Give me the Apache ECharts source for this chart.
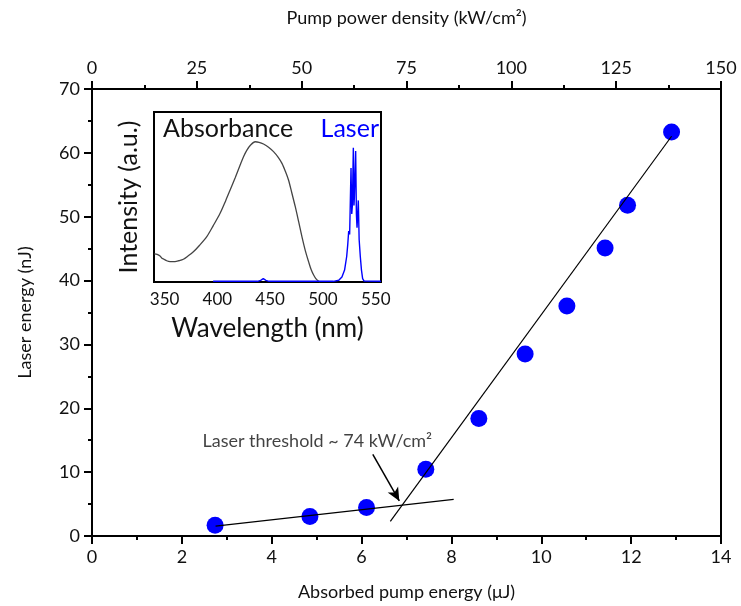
<!DOCTYPE html>
<html><head><meta charset="utf-8">
<script src="https://cdn.jsdelivr.net/npm/echarts@6/dist/echarts.min.js"></script>
<style>html,body{margin:0;padding:0;background:#fff}#c{width:741px;height:606px}</style>
</head><body><div id="c"></div>
<script>
// Main data
const pumpEnergy = [2.74, 4.85, 6.11, 7.43, 8.61, 9.64, 10.57, 11.42, 11.92, 12.90];
const laserEnergy = [1.67, 3.07, 4.47, 10.45, 18.4, 28.5, 36.0, 45.1, 51.8, 63.25];
const fitBelow = [[2.75, 1.55], [8.05, 5.75]];
const fitAbove = [[6.64, 2.3], [12.9, 62.6]];
const arrowFrom = [6.25, 12.8];
const arrowTo = [6.84, 5.5];
const thresholdLabelAt = [7.57, 14.8];
const thresholdText = 'Laser threshold ~ 74 kW/cm²';
// Inset data
const absWavelength = [340.3,343,345.7,347.5,349.5,352,355.2,359.9,363.5,367.8,372,377.3,383,390,396,402.6,408,412.1,417,421.6,425,428,431.5,435.8,439.5,443.7,448.5,453.2,457.5,461.2,464.5,467.4,470.5,473.8,477,480.1,483.3,486.4,489,491.2,493.5,495.9,497];
const absValue = [0.165,0.162,0.153,0.14,0.134,0.125,0.12,0.12,0.125,0.134,0.152,0.178,0.215,0.267,0.33,0.404,0.48,0.541,0.615,0.688,0.74,0.776,0.806,0.825,0.822,0.812,0.793,0.767,0.735,0.698,0.65,0.6,0.525,0.443,0.355,0.267,0.185,0.12,0.07,0.041,0.018,0.004,0.0];
const laserWavelength = [396,438,441,443.5,446,449,510,515,518,520.5,522.5,523.5,524.4,525.3,526.6,527.3,527.9,528.8,529.4,529.8,531.0,531.7,532.3,533.5,534.3,535.4,536.5,537.6,539,555];
const laserValue = [0.004,0.004,0.01,0.02,0.01,0.004,0.004,0.01,0.03,0.07,0.15,0.22,0.3,0.28,0.67,0.4,0.45,0.79,0.45,0.5,0.77,0.4,0.32,0.48,0.25,0.15,0.07,0.02,0.005,0.004];
const insetTicks = [350, 400, 450, 500, 550];

const FONT = 'Lato';
const zip = (a, b) => a.map((v, i) => [v, b[i]]);
const black = '#000';

const chart = echarts.init(document.getElementById('c'), null, {renderer: 'canvas'});
chart.setOption({
  animation: false,
  textStyle: {fontFamily: FONT, color: black},
  title: [
    {text: 'Absorbance', left: 163, top: 116, padding: 0, textStyle: {fontFamily: FONT, fontSize: 25, fontWeight: 'normal', color: '#111'}},
    {text: 'Laser', right: 362, top: 116, padding: 0, textStyle: {fontFamily: FONT, fontSize: 25, fontWeight: 'normal', color: '#0000ff'}}
  ],
  grid: [
    {left: 92, top: 89, width: 629, height: 449},
    {left: 154, top: 112, width: 227, height: 170, show: true, borderColor: black, borderWidth: 2, backgroundColor: '#fff', z: 5}
  ],
  xAxis: [
    {gridIndex: 0, type: 'value', position: 'bottom', min: 0, max: 14, interval: 2,
     axisLine: {onZero: false, lineStyle: {color: black, width: 2}},
     axisTick: {show: true, length: 8, lineStyle: {color: black, width: 2}},
     minorTick: {show: true, splitNumber: 2, length: 4, lineStyle: {color: black, width: 2}},
     splitLine: {show: false},
     axisLabel: {fontSize: 18, color: '#111', margin: 12, fontFamily: FONT},
     name: 'Absorbed pump energy (μJ)', nameLocation: 'middle', nameGap: 47,
     nameTextStyle: {fontSize: 18, color: '#111', fontFamily: FONT}},
    {gridIndex: 0, type: 'value', position: 'top', min: 0, max: 150, interval: 25,
     axisLine: {onZero: false, lineStyle: {color: black, width: 2}},
     axisTick: {show: true, length: 8, lineStyle: {color: black, width: 2}},
     minorTick: {show: true, splitNumber: 2, length: 4, lineStyle: {color: black, width: 2}},
     splitLine: {show: false},
     axisLabel: {fontSize: 18, color: '#111', margin: 12, fontFamily: FONT},
     name: 'Pump power density (kW/cm²)', nameLocation: 'middle', nameGap: 62,
     nameTextStyle: {fontSize: 18, color: '#111', fontFamily: FONT}},
    {gridIndex: 1, type: 'value', min: 340, max: 555,
     axisLine: {onZero: false, lineStyle: {color: black, width: 2}},
     axisTick: {show: false},
     splitLine: {show: false},
     axisLabel: {fontSize: 17, color: '#111', margin: 9, fontFamily: FONT, customValues: insetTicks},
     name: 'Wavelength (nm)', nameLocation: 'middle', nameGap: 34,
     nameTextStyle: {fontSize: 26, color: '#111', fontFamily: FONT}}
  ],
  yAxis: [
    {gridIndex: 0, type: 'value', position: 'left', min: 0, max: 70, interval: 10,
     axisLine: {onZero: false, lineStyle: {color: black, width: 2}},
     axisTick: {show: true, length: 8, lineStyle: {color: black, width: 2}},
     minorTick: {show: true, splitNumber: 2, length: 4, lineStyle: {color: black, width: 2}},
     splitLine: {show: false},
     axisLabel: {fontSize: 18, color: '#111', margin: 12, fontFamily: FONT},
     name: 'Laser energy (nJ)', nameLocation: 'middle', nameGap: 58,
     nameTextStyle: {fontSize: 18, color: '#111', fontFamily: FONT}},
    {gridIndex: 0, type: 'value', position: 'right', min: 0, max: 70,
     axisLine: {show: true, onZero: false, lineStyle: {color: black, width: 2}},
     axisTick: {show: false}, axisLabel: {show: false}, splitLine: {show: false}},
    {gridIndex: 1, type: 'value', min: 0, max: 1,
     axisLine: {show: true, onZero: false, lineStyle: {color: black, width: 2}},
     axisTick: {show: false}, axisLabel: {show: false}, splitLine: {show: false},
     name: 'Intensity (a.u.)', nameLocation: 'middle', nameGap: 13,
     nameTextStyle: {fontSize: 25, color: '#111', fontFamily: FONT}}
  ],
  series: [
    {type: 'line', xAxisIndex: 0, yAxisIndex: 0, data: fitBelow, symbol: 'none',
     lineStyle: {color: black, width: 1.2}, z: 3},
    {type: 'line', xAxisIndex: 0, yAxisIndex: 0, data: fitAbove, symbol: 'none',
     lineStyle: {color: black, width: 1.2}, z: 3},
    {type: 'scatter', xAxisIndex: 0, yAxisIndex: 0, data: zip(pumpEnergy, laserEnergy),
     symbolSize: 17, itemStyle: {color: '#0000ff', opacity: 1}, z: 2},
    {type: 'scatter', xAxisIndex: 0, yAxisIndex: 0, data: [thresholdLabelAt], symbolSize: 0,
     label: {show: true, position: 'left', distance: 0, formatter: thresholdText,
             fontSize: 18, color: '#111', fontFamily: FONT},
     markLine: {silent: true, symbol: ['none', 'arrow'], symbolSize: [9, 13],
                label: {show: false}, lineStyle: {color: black, width: 1.5, type: 'solid'},
                data: [[{coord: arrowFrom}, {coord: arrowTo}]]}},
    {type: 'line', xAxisIndex: 2, yAxisIndex: 2, data: zip(absWavelength, absValue), symbol: 'none',
     smooth: 0.3, lineStyle: {color: '#444', width: 1.3}, z: 6},
    {type: 'line', xAxisIndex: 2, yAxisIndex: 2, data: zip(laserWavelength, laserValue), symbol: 'none',
     lineStyle: {color: '#0000ff', width: 1.4}, z: 7}
  ]
});
</script></body></html>
